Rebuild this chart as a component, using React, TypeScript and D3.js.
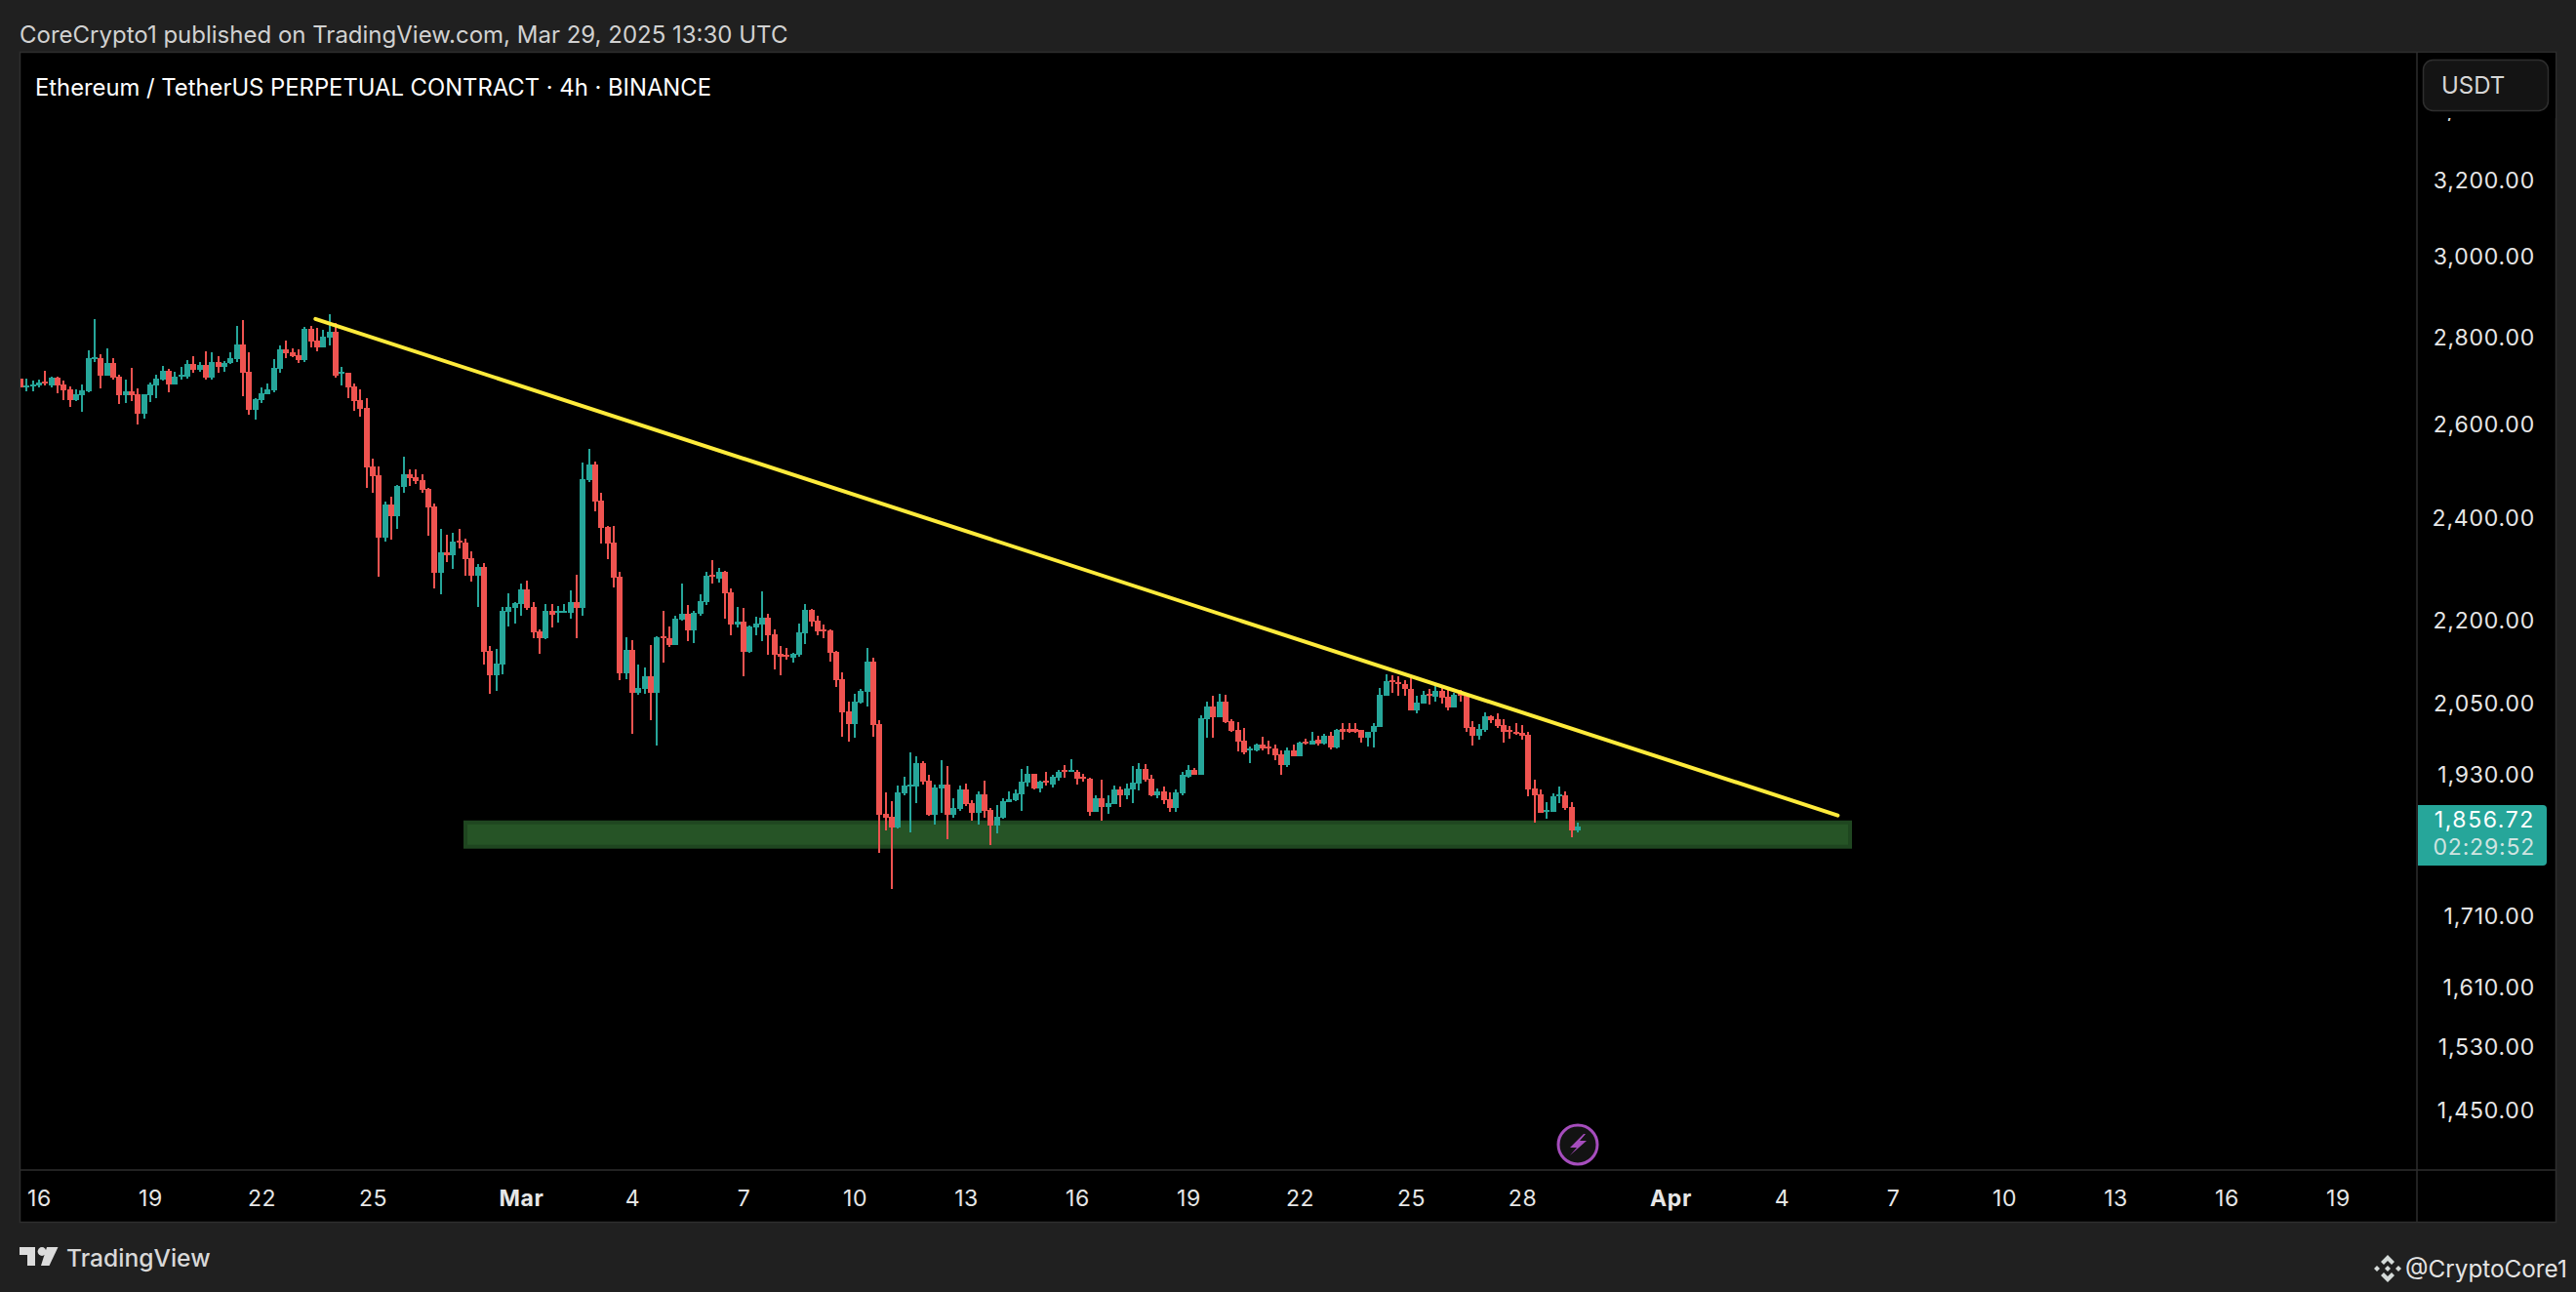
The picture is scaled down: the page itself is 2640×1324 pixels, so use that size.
import * as React from 'react';
import * as d3 from 'd3';

// 4h candles, Feb 15 12:00 UTC to Mar 29 12:00 UTC
const firstBar = Date.UTC(2025, 1, 15, 12);
const barMs = 4 * 3600 * 1000;

const opens = [
    2701,2681,2684,2684,2694,2685,2703,2687,2676,2652,
    2663,2672,2746,2748,2707,2737,2705,2663,2672,2665,
    2621,2663,2685,2698,2718,2687,2705,2705,2734,2721,
    2732,2703,2739,2728,2737,2746,2780,2716,2630,2652,
    2665,2674,2723,2769,2762,2755,2743,2818,2789,2773,
    2797,2811,2712,2714,2683,2652,2634,2506,2487,2359,
    2426,2402,2463,2489,2483,2477,2459,2422,2289,2330,
    2324,2353,2348,2318,2284,2301,2142,2098,2117,2214,
    2222,2229,2257,2224,2178,2165,2216,2213,2213,2213,
    2233,2222,2477,2510,2434,2380,2349,2282,2102,2144,
    2067,2074,2096,2067,2169,2165,2153,2200,2211,2180,
    2211,2233,2286,2278,2291,2251,2190,2196,2140,2185,
    2190,2204,2173,2137,2135,2130,2135,2174,2218,2198,
    2181,2180,2140,2091,2034,2013,2050,2068,2122,2013,
    1865,1860,1843,1897,1908,1908,1947,1918,1863,1905,
    1911,1863,1872,1904,1882,1866,1896,1871,1846,1858,
    1883,1886,1896,1915,1929,1905,1918,1911,1923,1935,
    1932,1933,1924,1921,1868,1889,1875,1880,1904,1894,
    1904,1913,1937,1921,1894,1900,1888,1874,1897,1924,
    1935,1927,2021,2043,2024,2051,2017,2003,1985,1968,
    1968,1978,1974,1971,1961,1944,1968,1958,1983,1977,
    1986,1979,1992,1973,2004,2004,2004,2002,1989,1999,
    2007,2061,2089,2086,2082,2074,2036,2048,2065,2060,
    2070,2060,2041,2065,2063,2007,1992,2002,2026,2021,
    2011,2002,2000,1997,1994,1905,1896,1868,1868,1892,1894,1875,1838,
];
const closes = [
    2681,2685,2687,2692,2690,2703,2685,2674,2652,2665,
    2674,2748,2750,2707,2737,2703,2663,2672,2663,2621,
    2665,2687,2701,2718,2687,2705,2710,2734,2721,2732,
    2703,2739,2728,2737,2748,2780,2714,2630,2654,2667,
    2676,2725,2769,2760,2753,2743,2818,2787,2773,2799,
    2811,2707,2716,2681,2650,2632,2504,2485,2359,2426,
    2402,2465,2489,2481,2475,2457,2420,2289,2329,2324,
    2351,2349,2316,2284,2301,2140,2098,2119,2216,2224,
    2231,2257,2222,2176,2165,2216,2209,2216,2216,2233,
    2222,2479,2510,2432,2378,2347,2279,2102,2144,2067,
    2075,2096,2067,2167,2165,2153,2201,2211,2180,2213,
    2235,2284,2282,2291,2249,2190,2196,2140,2187,2192,
    2204,2171,2135,2131,2131,2137,2176,2218,2196,2178,
    2178,2138,2089,2032,2013,2051,2070,2122,2011,1863,
    1858,1843,1899,1910,1911,1947,1916,1863,1907,1911,
    1863,1874,1904,1880,1866,1896,1869,1846,1860,1885,
    1888,1897,1916,1929,1905,1916,1915,1924,1933,1932,
    1935,1921,1921,1868,1889,1875,1882,1904,1894,1905,
    1915,1937,1919,1894,1900,1886,1874,1899,1927,1935,
    1927,2023,2043,2024,2051,2016,2001,1983,1965,1971,
    1978,1971,1971,1960,1944,1968,1958,1981,1979,1984,
    1979,1992,1973,2002,2000,2000,2000,1989,2000,2009,
    2063,2087,2086,2082,2073,2036,2050,2063,2061,2070,
    2058,2041,2063,2061,2005,1992,2004,2026,2019,2009,
    1999,1999,1997,1992,1904,1894,1866,1871,1892,1896,1874,1838,1845,
];
const highs = [
    2701,2701,2696,2698,2718,2705,2705,2696,2683,2676,
    2687,2766,2841,2757,2771,2748,2710,2698,2725,2678,
    2665,2692,2710,2730,2723,2716,2728,2743,2753,2739,
    2764,2762,2753,2741,2762,2825,2838,2762,2656,2681,
    2689,2746,2778,2789,2771,2769,2822,2825,2820,2815,
    2853,2832,2728,2714,2689,2676,2656,2523,2506,2432,
    2443,2467,2527,2500,2500,2489,2461,2428,2376,2365,
    2368,2376,2357,2331,2306,2308,2151,2146,2224,2249,
    2233,2268,2274,2233,2181,2229,2229,2225,2229,2255,
    2285,2514,2544,2516,2450,2382,2382,2291,2167,2162,
    2117,2112,2153,2169,2216,2187,2207,2268,2227,2216,
    2248,2291,2314,2299,2293,2259,2224,2222,2189,2205,
    2253,2211,2181,2151,2147,2138,2192,2229,2220,2207,
    2190,2181,2142,2103,2051,2065,2074,2147,2129,2019,
    1899,1885,1910,1924,1965,1958,1950,1928,1911,1952,
    1942,1889,1910,1913,1886,1900,1918,1874,1879,1889,
    1900,1904,1937,1942,1929,1918,1932,1927,1935,1944,
    1953,1936,1929,1923,1894,1919,1894,1910,1908,1913,
    1942,1947,1945,1927,1905,1908,1899,1904,1932,1944,
    1939,2028,2051,2061,2065,2063,2021,2016,2006,1974,
    1979,1991,1985,1978,1968,1973,1978,1983,1988,2000,
    1992,1996,1999,2004,2015,2015,2015,2002,2000,2015,
    2075,2100,2098,2096,2089,2092,2061,2070,2073,2079,
    2079,2073,2067,2072,2067,2018,2012,2033,2028,2031,
    2021,2009,2015,2011,1999,1920,1904,1883,1897,1908,1900,1883,1851,
];
const lows = [
    2681,2672,2672,2681,2684,2681,2667,2652,2636,2650,
    2625,2669,2739,2678,2707,2698,2643,2645,2650,2597,
    2610,2647,2656,2696,2669,2687,2698,2701,2714,2716,
    2698,2698,2714,2716,2734,2739,2661,2619,2608,2645,
    2665,2669,2714,2748,2750,2737,2739,2773,2764,2773,
    2778,2703,2685,2656,2628,2615,2461,2450,2282,2351,
    2355,2376,2450,2465,2469,2450,2362,2259,2248,2310,
    2297,2337,2284,2272,2224,2117,2065,2070,2100,2187,
    2192,2207,2218,2165,2137,2164,2185,2194,2213,2201,
    2165,2207,2473,2412,2347,2316,2261,2089,2091,1996,
    2063,2065,2019,1976,2121,2149,2153,2198,2160,2156,
    2207,2227,2268,2270,2201,2171,2185,2096,2138,2171,
    2160,2135,2109,2098,2126,2121,2131,2155,2187,2171,
    2165,2122,2077,1991,1983,1989,2048,2043,1991,1803,
    1838,1749,1841,1894,1835,1882,1911,1861,1848,1866,
    1825,1858,1869,1877,1854,1848,1858,1816,1834,1857,
    1883,1885,1869,1908,1904,1899,1910,1907,1918,1923,
    1932,1911,1916,1861,1868,1854,1865,1880,1875,1888,
    1882,1902,1916,1893,1889,1880,1868,1868,1894,1923,
    1927,1927,1989,1989,2024,2014,1999,1966,1961,1947,
    1966,1968,1961,1952,1928,1941,1958,1958,1978,1977,
    1976,1977,1970,1971,1986,1997,1997,1981,1974,1973,
    2007,2061,2066,2061,2061,2036,2031,2048,2046,2052,
    2048,2036,2041,2052,2000,1976,1986,2000,2015,2005,
    1981,1987,1994,1986,1893,1851,1866,1857,1868,1881,1871,1828,1836,
];

const priceTicks = [3400, 3200, 3000, 2800, 2600, 2400, 2200, 2050, 1930, 1710, 1610, 1530, 1450];
const dateTicks = [
    '2025-02-16', '2025-02-19', '2025-02-22', '2025-02-25', '2025-03-01', '2025-03-04', '2025-03-07',
    '2025-03-10', '2025-03-13', '2025-03-16', '2025-03-19', '2025-03-22', '2025-03-25', '2025-03-28',
    '2025-04-01', '2025-04-04', '2025-04-07', '2025-04-10', '2025-04-13', '2025-04-16', '2025-04-19',
];

// trend line and support zone, as time / price
const trendLine = [
    {time: '2025-02-23T10:55Z', price: 2841},
    {time: '2025-04-05T12:14Z', price: 1862},
];
const zoneTimes = ['2025-02-27T10:44Z', '2025-04-05T21:29Z'];
const zonePrices = [1854, 1810];

const lastPriceText = '1,856.72';
const countdownText = '02:29:52';

const TEAL = '#26a69a';
const RED = '#ef5350';
const FONT = 'Inter, "Noto Sans", sans-serif';

interface IChartProperties {
    width: number;
    height: number;
    plot: {left: number; right: number; top: number; bottom: number};
    axisX: number;
    axisY: number;
}

const chartProperties: IChartProperties = {
    width: 2640,
    height: 1324,
    plot: {left: 21, right: 2620, top: 54, bottom: 1253},
    axisX: 2477,
    axisY: 1199,
};

const xScale = d3.scaleUtc()
    .domain([new Date('2025-02-16T00:00Z'), new Date('2025-04-19T00:00Z')])
    .range([40, 2396]);
const yScale = d3.scaleLog().domain([3200, 1450]).range([183.6, 1136.7]);

function barX(i: number): number {
    return xScale(new Date(firstBar + i * barMs));
}

function appendFrame(svg: any, p: IChartProperties) {
    svg.append('rect').attr('width', p.width).attr('height', p.height).attr('fill', '#202020');
    svg.append('rect')
        .attr('x', p.plot.left - 0.5).attr('y', p.plot.top - 0.5)
        .attr('width', p.plot.right - p.plot.left).attr('height', p.plot.bottom - p.plot.top)
        .attr('fill', '#000').attr('stroke', '#2e2e2e').attr('stroke-width', 1.5);
    svg.append('clipPath').attr('id', 'pane').append('rect')
        .attr('x', p.plot.left).attr('y', p.plot.top)
        .attr('width', p.axisX - p.plot.left - 1).attr('height', p.axisY - p.plot.top);
}

function appendZone(svg: any) {
    const x0 = xScale(new Date(zoneTimes[0]));
    const x1 = xScale(new Date(zoneTimes[1]));
    const y0 = yScale(zonePrices[0]);
    const y1 = yScale(zonePrices[1]);
    svg.append('rect')
        .attr('x', x0 + 2).attr('y', y0 + 2)
        .attr('width', x1 - x0 - 4).attr('height', y1 - y0 - 4)
        .attr('fill', '#265426').attr('stroke', '#1f4620').attr('stroke-width', 4);
}

function appendCandles(svg: any) {
    const g = svg.append('g').attr('clip-path', 'url(#pane)');
    const candles = g.selectAll('g').data(opens).enter().append('g')
        .attr('fill', (_: number, i: number) => closes[i] >= opens[i] ? TEAL : RED);
    candles.append('rect')
        .attr('x', (_: number, i: number) => Math.round(barX(i)) - 1)
        .attr('width', 2)
        .attr('y', (_: number, i: number) => Math.round(yScale(highs[i])))
        .attr('height', (_: number, i: number) => Math.round(yScale(lows[i])) - Math.round(yScale(highs[i])));
    candles.append('rect')
        .attr('x', (_: number, i: number) => Math.round(barX(i)) - 3)
        .attr('width', 6)
        .attr('y', (_: number, i: number) => Math.round(yScale(Math.max(opens[i], closes[i]))))
        .attr('height', (_: number, i: number) => Math.max(2, Math.round(yScale(Math.min(opens[i], closes[i]))) - Math.round(yScale(Math.max(opens[i], closes[i])))));
}

function appendTrendLine(svg: any) {
    const line = d3.line<{time: string; price: number}>()
        .x((d) => xScale(new Date(d.time)))
        .y((d) => yScale(d.price));
    svg.append('path').attr('d', line(trendLine))
        .attr('fill', 'none').attr('stroke', '#ffeb3b').attr('stroke-width', 4).attr('stroke-linecap', 'round');
}

function appendPriceAxis(svg: any, p: IChartProperties) {
    const axis = d3.axisRight(yScale).tickValues(priceTicks).tickSize(0).tickFormat(d3.format(',.2f') as any);
    const g = svg.append('g').attr('transform', 'translate(2598 1.5)').call(axis);
    g.select('.domain').remove();
    g.selectAll('text')
        .attr('x', 0).attr('text-anchor', 'end').attr('fill', '#e6e6e6')
        .attr('font-family', FONT).attr('font-size', 23).attr('letter-spacing', 0.8);

    // the top label hides behind the currency button, only its comma shows
    svg.append('rect').attr('x', p.axisX + 1).attr('y', p.plot.top).attr('width', p.plot.right - p.axisX - 2).attr('height', 67).attr('fill', '#000');
    svg.append('rect').attr('x', 2483.5).attr('y', 61.5).attr('width', 128).attr('height', 52).attr('rx', 10)
        .attr('fill', '#141414').attr('stroke', '#2e2e2e').attr('stroke-width', 1.5);
    svg.append('text').attr('x', 2502).attr('y', 96).text('USDT')
        .attr('fill', '#d6d6d6').attr('font-family', FONT).attr('font-size', 24);

    // last price tag
    svg.append('path').attr('d', 'M2478 825H2606a4 4 0 0 1 4 4V883a4 4 0 0 1 -4 4H2478Z').attr('fill', '#26a69a');
    svg.append('text').attr('x', 2598).attr('y', 848).attr('text-anchor', 'end').text(lastPriceText)
        .attr('fill', '#fff').attr('font-family', FONT).attr('font-size', 23).attr('letter-spacing', 1.6);
    svg.append('text').attr('x', 2598).attr('y', 876).attr('text-anchor', 'end').text(countdownText)
        .attr('fill', '#cfe3e0').attr('font-family', FONT).attr('font-size', 23).attr('letter-spacing', 0.8);
}

function appendDateAxis(svg: any, p: IChartProperties) {
    const dates = dateTicks.map((d) => new Date(d + 'T00:00Z'));
    const isMonth = (d: Date) => d.getUTCDate() === 1;
    const axis = d3.axisBottom(xScale).tickValues(dates).tickSize(0)
        .tickFormat((d: any) => isMonth(d) ? d3.utcFormat('%b')(d) : String(d.getUTCDate()));
    const g = svg.append('g').attr('transform', `translate(0 ${p.axisY})`).call(axis);
    g.select('.domain').remove();
    g.selectAll('text')
        .attr('y', 18.5).attr('dy', '0.8em').attr('fill', '#e6e6e6')
        .attr('font-family', FONT).attr('font-size', 23).attr('letter-spacing', 0.6)
        .attr('font-weight', (d: Date) => isMonth(d) ? 700 : 400);
}

function appendDividers(svg: any, p: IChartProperties) {
    svg.append('line').attr('x1', p.plot.left).attr('x2', p.plot.right).attr('y1', p.axisY).attr('y2', p.axisY)
        .attr('stroke', '#2e2e2e').attr('stroke-width', 1.5);
    svg.append('line').attr('x1', p.axisX).attr('x2', p.axisX).attr('y1', p.plot.top).attr('y2', p.plot.bottom)
        .attr('stroke', '#2e2e2e').attr('stroke-width', 1.5);
}

function appendMarker(svg: any) {
    const x = barX(opens.length - 1);
    const g = svg.append('g').attr('transform', `translate(${x} 1173)`);
    g.append('circle').attr('r', 20).attr('fill', '#131313').attr('stroke', '#a64dbd').attr('stroke-width', 3);
    g.append('path').attr('d', 'M6 -11L-8 3H-1L-8 11L9 -4H2L8 -11Z').attr('fill', '#a64dbd');
}

function appendTexts(svg: any) {
    svg.append('text').attr('x', 20).attr('y', 44).text('CoreCrypto1 published on TradingView.com, Mar 29, 2025 13:30 UTC')
        .attr('fill', '#d1d1d1').attr('font-family', FONT).attr('font-size', 24);
    svg.append('text').attr('x', 36).attr('y', 98).text('Ethereum / TetherUS PERPETUAL CONTRACT · 4h · BINANCE')
        .attr('fill', '#fff').attr('font-family', FONT).attr('font-size', 23.8);

    // TradingView logo
    const logo = svg.append('g').attr('fill', '#dcdcdc');
    logo.append('path').attr('d', 'M20 1278H36V1297H28V1286H20Z');
    logo.append('circle').attr('cx', 43).attr('cy', 1282.5).attr('r', 4.4);
    logo.append('path').attr('d', 'M48 1278H59.5L50.5 1297H42Z');
    svg.append('text').attr('x', 68).attr('y', 1298).text('TradingView')
        .attr('fill', '#d8d8d8').attr('font-family', FONT).attr('font-size', 24.6).attr('font-weight', 500);

    // signature, bottom right
    const diamond = svg.append('g').attr('fill', '#d5dbd9').attr('transform', 'translate(2447 1300)');
    diamond.append('path').attr('d', 'M0 -14L7 -7L4 -4L0 -8L-4 -4L-7 -7Z');
    diamond.append('path').attr('d', 'M0 14L7 7L4 4L0 8L-4 4L-7 7Z');
    diamond.append('path').attr('d', 'M-14 0L-11 -3L-8 0L-11 3Z');
    diamond.append('path').attr('d', 'M14 0L11 -3L8 0L11 3Z');
    diamond.append('path').attr('d', 'M0 -3L3 0L0 3L-3 0Z');
    svg.append('text').attr('x', 2465).attr('y', 1309).text('@CryptoCore1')
        .attr('fill', '#e4e4e4').attr('font-family', FONT).attr('font-size', 24.3);
}

export default function App() {
    const svgRef = React.useRef<SVGSVGElement>(null);

    React.useEffect(() => {
        const svg = d3.select(svgRef.current);
        svg.selectAll('*').remove();
        appendFrame(svg, chartProperties);
        appendZone(svg);
        appendCandles(svg);
        appendTrendLine(svg);
        appendPriceAxis(svg, chartProperties);
        appendDateAxis(svg, chartProperties);
        appendDividers(svg, chartProperties);
        appendMarker(svg);
        appendTexts(svg);
    }, []);

    return (
        <svg ref={svgRef} xmlns="http://www.w3.org/2000/svg" width={2640} height={1324} viewBox="0 0 2640 1324"
             style={{position: 'absolute', left: 0, top: 0, display: 'block'}}>
        </svg>
    );
}
